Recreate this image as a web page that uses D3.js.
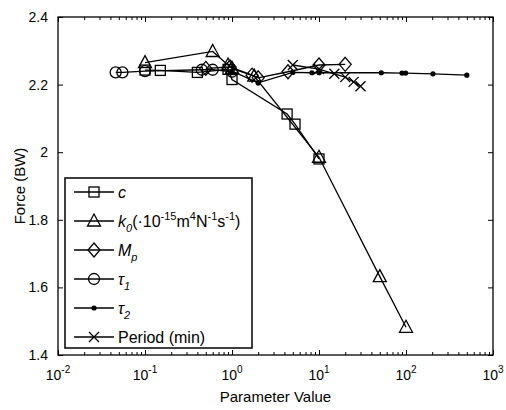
<!DOCTYPE html>
<html><head><meta charset="utf-8">
<script src="https://cdn.jsdelivr.net/npm/d3@7"></script>
<style>body{margin:0;background:#fff} svg{font-family:"Liberation Sans",Arial,sans-serif}</style>
</head><body>
<svg id="chart" width="506" height="410"></svg>
<script>
// ---- data ----
const cX = [0.1, 0.15, 0.4, 0.9, 1.0, 4.3, 5.3, 10];
const cY = [2.243, 2.242, 2.236, 2.245, 2.215, 2.113, 2.083, 1.98];
const k0X = [0.1, 0.6, 0.9, 1.0, 1.8, 10, 50, 100];
const k0Y = [2.265, 2.298, 2.258, 2.248, 2.225, 1.985, 1.632, 1.482];
const mpX = [0.5, 0.95, 1.7, 2.0, 4.4, 10, 20];
const mpY = [2.248, 2.252, 2.228, 2.22, 2.238, 2.258, 2.26];
const tau1X = [0.046, 0.055, 0.1, 0.45, 0.6, 1.0];
const tau1Y = [2.236, 2.236, 2.24, 2.244, 2.244, 2.238];
const tau2X = [1.0, 2.0, 5, 8.3, 10, 52, 90, 99, 204, 500];
const tau2Y = [2.24, 2.205, 2.236, 2.235, 2.235, 2.235, 2.234, 2.234, 2.232, 2.228];
const perX = [5, 10, 15, 20, 25, 30];
const perY = [2.258, 2.246, 2.232, 2.222, 2.208, 2.195];
const xTicks = [1e-2, 1e-1, 1e0, 1e1, 1e2, 1e3];
const xTickExp = ["-2", "-1", "0", "1", "2", "3"];
const yTicks = [1.4, 1.6, 1.8, 2.0, 2.2, 2.4];
const yTickLabels = ["1.4", "1.6", "1.8", "2", "2.2", "2.4"];

const L = 58, R = 493, T = 17, B = 355;
const svg = d3.select("#chart");
const x = d3.scaleLog().domain([1e-2, 1e3]).range([L, R]);
const y = d3.scaleLinear().domain([1.4, 2.4]).range([B, T]);

const minor = [];
for (let e = -2; e < 3; e++) for (let m = 2; m <= 9; m++) minor.push(m * Math.pow(10, e));

function styleAxis(g) {
  g.select(".domain").remove();
  g.selectAll("line").attr("stroke", "#000").attr("stroke-width", 1);
}
// x axes
svg.append("g").attr("transform", `translate(0,${B})`)
  .call(d3.axisBottom(x).tickValues(xTicks).tickSize(-5).tickFormat("")).call(styleAxis);
svg.append("g").attr("transform", `translate(0,${B})`)
  .call(d3.axisBottom(x).tickValues(minor).tickSize(-3).tickFormat("")).call(styleAxis);
svg.append("g").attr("transform", `translate(0,${T})`)
  .call(d3.axisTop(x).tickValues(xTicks).tickSize(-5).tickFormat("")).call(styleAxis);
svg.append("g").attr("transform", `translate(0,${T})`)
  .call(d3.axisTop(x).tickValues(minor).tickSize(-3).tickFormat("")).call(styleAxis);
// y axes
const yl = svg.append("g").attr("transform", `translate(${L},0)`)
  .call(d3.axisLeft(y).tickValues(yTicks).tickSize(-5).tickPadding(10)
    .tickFormat((d, i) => yTickLabels[i])).call(styleAxis);
yl.selectAll("text").attr("font-size", 14).attr("fill", "#000")
  .attr("font-family", '"Liberation Sans",Arial,sans-serif');
svg.append("g").attr("transform", `translate(${R},0)`)
  .call(d3.axisRight(y).tickValues(yTicks).tickSize(-5).tickFormat("")).call(styleAxis);

// x tick labels with superscripts
const xl = svg.append("g");
xTicks.forEach((v, i) => {
  const t = xl.append("text").attr("x", x(v)).attr("y", B + 25).attr("text-anchor", "middle")
    .attr("font-size", 14);
  t.append("tspan").text("10");
  t.append("tspan").attr("dy", -7).attr("font-size", 10).text(xTickExp[i]);
});

// frame
svg.append("rect").attr("x", L).attr("y", T).attr("width", R - L).attr("height", B - T)
  .attr("fill", "none").attr("stroke", "#000").attr("stroke-width", 1.3);

// axis titles
svg.append("text").attr("x", (L + R) / 2).attr("y", 402).attr("text-anchor", "middle")
  .attr("font-size", 15).text("Parameter Value");
svg.append("text").attr("transform", `translate(25,${(T + B) / 2}) rotate(-90)`)
  .attr("text-anchor", "middle").attr("font-size", 15).text("Force (BW)");

// markers
function marker(g, type, cx, cy) {
  const st = s => s.attr("fill", "none").attr("stroke", "#000").attr("stroke-width", 1.3);
  if (type === "square") g.append("rect").attr("x", cx - 5).attr("y", cy - 5).attr("width", 10).attr("height", 10).call(st);
  else if (type === "triangle") g.append("path").attr("d", `M${cx},${cy - 7}L${cx + 6.5},${cy + 5}L${cx - 6.5},${cy + 5}Z`).call(st);
  else if (type === "diamond") g.append("path").attr("d", `M${cx},${cy - 7}L${cx + 6},${cy}L${cx},${cy + 7}L${cx - 6},${cy}Z`).call(st);
  else if (type === "circle") g.append("circle").attr("cx", cx).attr("cy", cy).attr("r", 5.5).call(st);
  else if (type === "dot") g.append("circle").attr("cx", cx).attr("cy", cy).attr("r", 2.6).attr("fill", "#000");
  else if (type === "x") g.append("path").attr("d", `M${cx - 5},${cy - 5}L${cx + 5},${cy + 5}M${cx - 5},${cy + 5}L${cx + 5},${cy - 5}`).call(st);
}

const series = [
  {xs: cX, ys: cY, m: "square"},
  {xs: k0X, ys: k0Y, m: "triangle"},
  {xs: mpX, ys: mpY, m: "diamond"},
  {xs: tau1X, ys: tau1Y, m: "circle"},
  {xs: tau2X, ys: tau2Y, m: "dot"},
  {xs: perX, ys: perY, m: "x"}
];
const line = d3.line().x(d => x(d[0])).y(d => y(d[1]));
const plot = svg.append("g");
series.forEach(s => {
  const pts = s.xs.map((v, i) => [v, s.ys[i]]);
  plot.append("path").attr("d", line(pts)).attr("fill", "none").attr("stroke", "#000").attr("stroke-width", 1.3);
  pts.forEach(p => marker(plot, s.m, x(p[0]), y(p[1])));
});

// legend
const lg = svg.append("g");
lg.append("rect").attr("x", 65).attr("y", 178).attr("width", 187).attr("height", 170)
  .attr("fill", "#fff").attr("stroke", "#000").attr("stroke-width", 1.5);
const legendLabels = [
  [{t: "c", i: true}],
  [{t: "k", i: true}, {t: "0", i: true, sub: true}, {t: "(·10"}, {t: "-15", sup: true}, {t: "m"}, {t: "4", sup: true}, {t: "N"}, {t: "-1", sup: true}, {t: "s"}, {t: "-1", sup: true}, {t: ")"}],
  [{t: "M", i: true}, {t: "p", i: true, sub: true}],
  [{t: "τ", i: true}, {t: "1", i: true, sub: true}],
  [{t: "τ", i: true}, {t: "2", i: true, sub: true}],
  [{t: "Period (min)"}]
];
series.forEach((s, k) => {
  const ly = 192 + k * 29;
  lg.append("line").attr("x1", 74).attr("x2", 114).attr("y1", ly).attr("y2", ly)
    .attr("stroke", "#000").attr("stroke-width", 1.3);
  marker(lg, s.m, 94, ly);
  const t = lg.append("text").attr("x", 118).attr("y", ly + 5.5).attr("font-size", 16);
  let shift = 0;
  legendLabels[k].forEach(p => {
    const target = p.sup ? -7 : p.sub ? 5 : 0;
    const ts = t.append("tspan").attr("dy", target - shift).text(p.t);
    shift = target;
    if (p.i) ts.attr("font-style", "italic");
    if (p.sup || p.sub) ts.attr("font-size", 11);
  });
});
</script>
</body></html>
